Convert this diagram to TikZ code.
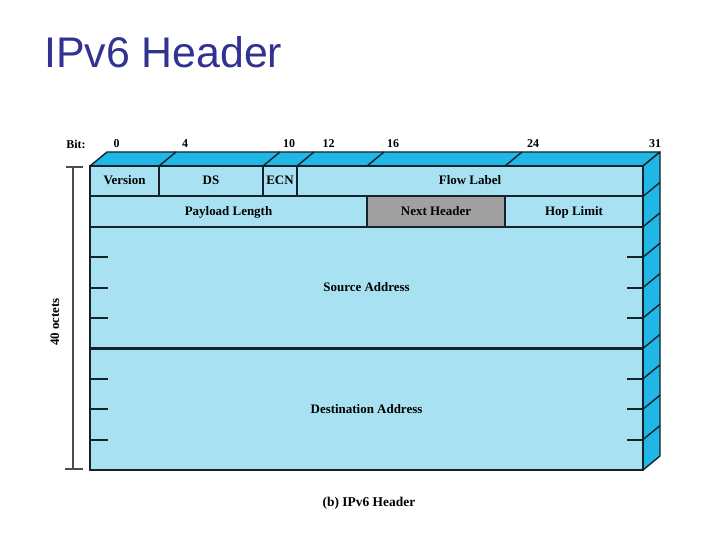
\documentclass[tikz,border=0pt]{standalone}
\usepackage{fontspec}
\setmainfont{Liberation Serif}
\newfontfamily\titlefont{Liberation Sans}
\definecolor{frontc}{RGB}{168,226,242}
\definecolor{sidec}{RGB}{32,182,230}
\definecolor{grayc}{RGB}{160,160,160}
\definecolor{linec}{RGB}{22,34,42}
\definecolor{titlec}{RGB}{50,50,145}
\begin{document}
\begin{tikzpicture}[x=1bp,y=-1bp,
  field/.style={draw=linec, line width=1.6bp, fill=frontc, inner sep=0pt,
    text height=9bp, text depth=1bp,
    font=\bfseries\fontsize{13}{13}\selectfont},
  bitlab/.style={font=\bfseries\fontsize{12}{12}\selectfont, inner sep=0pt},
  face/.style={draw=linec, line width=1.4bp, fill=sidec, line join=round},
  edge/.style={draw=linec, line width=1.4bp},
  tick/.style={draw=linec, line width=1.8bp},
  dim/.style={draw=linec!80, line width=1.4bp}]
\useasboundingbox[fill=white] (0,0) rectangle (720,540);
% title
\node[anchor=base west, inner sep=0pt, text=titlec,
  font=\titlefont\fontsize{43}{43}\selectfont] (title) at (44,68) {IPv6 Header};
% bit labels
\node[bitlab] (bit) at (76,144) {Bit:};
\node[bitlab] (b0) at (116.5,144) {0};
\node[bitlab] (b4) at (185,144) {4};
\node[bitlab] (b10) at (289,144) {10};
\node[bitlab] (b12) at (328.5,144) {12};
\node[bitlab] (b16) at (393,144) {16};
\node[bitlab] (b24) at (533,144) {24};
\node[bitlab] (b31) at (655,144) {31};
% top face
\path[face] (90,166) -- (107,152) -- (660,152) -- (643,166) -- cycle;
\foreach \x in {159,263,297,367,505}{
  \draw[edge] (\x,166) -- ({\x+17},152);
}
% side face
\path[face] (643,166) -- (660,152) -- (660,456) -- (643,470) -- cycle;
\foreach \k in {1,...,9}{
  \draw[edge] (643,{166+30.4*\k}) -- (660,{152+30.4*\k});
}
% row 1
\node[field, minimum width=69bp, minimum height=30bp] (ver) at (124.5,181) {Version};
\node[field, minimum width=104bp, minimum height=30bp] (ds) at (211,181) {DS};
\node[field, minimum width=34bp, minimum height=30bp] (ecn) at (280,181) {ECN};
\node[field, minimum width=346bp, minimum height=30bp] (flow) at (470,181) {Flow Label};
% row 2
\node[field, minimum width=277bp, minimum height=31bp] (pay) at (228.5,211.5) {Payload Length};
\node[field, fill=grayc, minimum width=138bp, minimum height=31bp] (nh) at (436,211.5) {Next Header};
\node[field, minimum width=138bp, minimum height=31bp] (hop) at (574,211.5) {Hop Limit};
% addresses
\node[field, minimum width=553bp, minimum height=121bp] (src) at (366.5,287.5) {Source Address};
\node[field, minimum width=553bp, minimum height=122bp] (dst) at (366.5,409) {Destination Address};
\draw[draw=linec, line width=2.6bp] (src.south west) -- (src.south east);
% ticks
\foreach \y in {257,288,318,379,409,440}{
  \draw[tick] (90,\y) -- (108,\y);
  \draw[tick] (627,\y) -- (643,\y);
}
% dimension line
\coordinate (dtop) at (73,167);
\coordinate (dbot) at (73,469);
\draw[dim] (dtop) -- (dbot);
\draw[dim] (66,167) -- (83,167);
\draw[dim] (65,469) -- (83,469);
\node[rotate=90, inner sep=0pt, font=\bfseries\fontsize{13}{13}\selectfont] (oct) at (55,322) {40 octets};
% caption
\node[inner sep=0pt, font=\bfseries\fontsize{13.5}{13.5}\selectfont] (cap) at (369,503) {(b) IPv6 Header};
\end{tikzpicture}
\end{document}
